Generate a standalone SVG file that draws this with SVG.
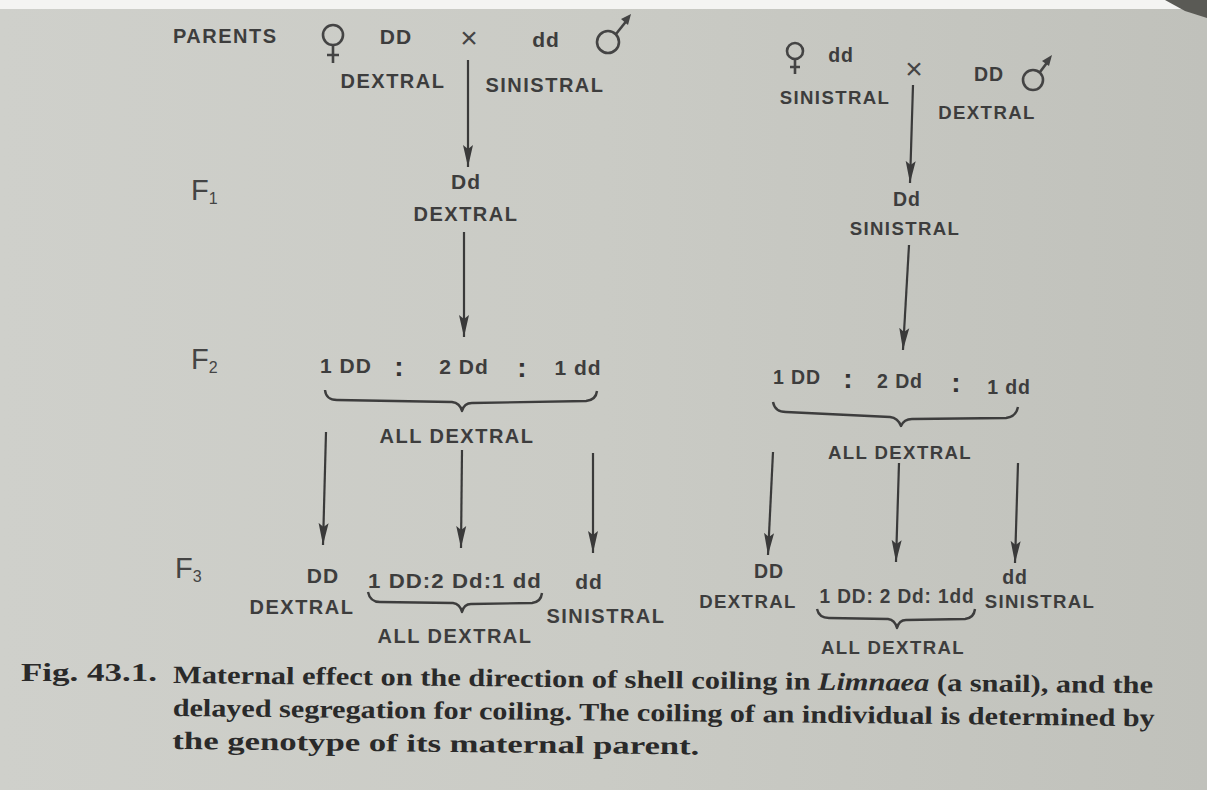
<svg xmlns="http://www.w3.org/2000/svg" width="1207" height="790" viewBox="0 0 1207 790">
<defs>
<marker id="ah" markerWidth="22" markerHeight="12" refX="22" refY="6" orient="auto" markerUnits="userSpaceOnUse" viewBox="0 0 22 12">
<path d="M0,1 L22,6 L0,11 L4,6 Z" fill="#3a3a3a"/>
</marker>
<linearGradient id="bg" x1="0" y1="0" x2="1" y2="0">
<stop offset="0" stop-color="#cfd0cb"/>
<stop offset="0.5" stop-color="#cacbc5"/>
<stop offset="1" stop-color="#c0c1bb"/>
</linearGradient>
</defs>
<style>
.t{font-family:"Liberation Sans",Arial,sans-serif;font-weight:bold;font-size:20px;fill:#3d3d3d;letter-spacing:1.5px}
.g{font-family:"Liberation Sans",Arial,sans-serif;font-weight:bold;font-size:21px;fill:#3d3d3d;letter-spacing:1px}
.R .t{font-size:18.6px;letter-spacing:1.4px}
.R .g{font-size:19.5px;letter-spacing:0.9px}
.m{text-anchor:middle}
.f{font-family:"Liberation Sans",Arial,sans-serif;font-size:29px;fill:#444}
.fs{font-size:16px}
.col{font-family:"Liberation Sans",Arial,sans-serif;font-weight:bold;font-size:28px;fill:#333;text-anchor:middle}
.x{font-family:"Liberation Sans",Arial,sans-serif;font-size:30px;fill:#444;text-anchor:middle}
.cap{font-family:"Liberation Serif","Times New Roman",serif;font-weight:bold;font-size:25px;fill:#2a2a2a}
.sym{fill:none;stroke:#444;stroke-width:2.6}
.br{fill:none;stroke:#3d3d3d;stroke-width:2.4;stroke-linejoin:round}
.ar{stroke:#3a3a3a;stroke-width:2.2;fill:none;marker-end:url(#ah)}
</style>
<rect width="1207" height="790" fill="url(#bg)"/>
<rect x="0" y="0" width="1207" height="9" fill="#f4f4f2"/>
<path d="M1165,0 L1207,0 L1207,18 L1185,11 Z" fill="#5a5a55"/>

<g id="left-parents">
<text class="t" x="173" y="43">PARENTS</text>
<g id="female-left"><circle class="sym" cx="333" cy="35" r="10"/><path class="sym" d="M333,45 V63 M327,55 H339"/></g>
<text class="g m" x="396" y="44">DD</text>
<text class="x" x="469" y="48">×</text>
<text class="g m" x="546" y="47">dd</text>
<g id="male-left"><circle class="sym" cx="608" cy="42" r="11"/><path class="sym" d="M616,34 L628,19"/><path d="M631,14 L621,19 L628,25 Z" fill="#444"/></g>
<text class="t m" x="393" y="88">DEXTRAL</text>
<text class="t m" x="545" y="92">SINISTRAL</text>
</g>

<g id="left-F1">
<text class="f" x="191" y="200">F<tspan class="fs" dy="4">1</tspan></text>
<text class="g m" x="466" y="189">Dd</text>
<text class="t m" x="466" y="221">DEXTRAL</text>
</g>

<g id="left-F2">
<text class="f" x="191" y="369">F<tspan class="fs" dy="4">2</tspan></text>
<text class="g m" x="346" y="373">1 DD</text>
<text class="col" x="399" y="376">:</text>
<text class="g m" x="464" y="374">2 Dd</text>
<text class="col" x="522" y="377">:</text>
<text class="g m" x="578" y="375">1 dd</text>
<path class="br" d="M325,390 Q326,400 337,400 L452,402 Q460,403 462,411 Q464,403 472,403 L586,401 Q596,400 597,391"/>
<text class="t m" x="457" y="443">ALL DEXTRAL</text>
</g>

<g id="left-F3">
<text class="f" x="175" y="578">F<tspan class="fs" dy="4">3</tspan></text>
<text class="g m" x="323" y="583">DD</text>
<text class="t m" x="302" y="614">DEXTRAL</text>
<text class="g m" x="455" y="588" textLength="174" lengthAdjust="spacingAndGlyphs">1 DD:2 Dd:1 dd</text>
<path class="br" d="M368,592 Q370,602 380,602 L453,603 Q460,604 462,612 Q464,604 471,604 L532,603 Q541,602 542,593"/>
<text class="g m" x="589" y="589">dd</text>
<text class="t m" x="606" y="623">SINISTRAL</text>
<text class="t m" x="455" y="643">ALL DEXTRAL</text>
</g>

<g id="right-parents" class="R">
<g id="female-right"><circle class="sym" cx="795" cy="51" r="8"/><path class="sym" d="M795,59 V74 M790,67 H800"/></g>
<text class="g m" x="841" y="62">dd</text>
<text class="x" x="914" y="79">×</text>
<text class="g m" x="989" y="81">DD</text>
<g id="male-right"><circle class="sym" cx="1033" cy="80" r="10"/><path class="sym" d="M1040,72 L1049,60"/><path d="M1052,55 L1042,61 L1049,66 Z" fill="#444"/></g>
<text class="t m" x="835" y="104">SINISTRAL</text>
<text class="t m" x="987" y="119">DEXTRAL</text>
</g>

<g id="right-F1" class="R">
<text class="g m" x="907" y="206">Dd</text>
<text class="t m" x="905" y="235">SINISTRAL</text>
</g>

<g id="right-F2" class="R">
<text class="g m" x="797" y="384">1 DD</text>
<text class="col" x="848" y="388">:</text>
<text class="g m" x="900" y="388">2 Dd</text>
<text class="col" x="956" y="392">:</text>
<text class="g m" x="1009" y="394">1 dd</text>
<path class="br" d="M773,402 Q775,412 786,412 L890,417 Q898,418 901,426 Q904,419 912,419 L1006,418 Q1016,417 1018,407"/>
<text class="t m" x="900" y="459">ALL DEXTRAL</text>
</g>

<g id="right-F3" class="R">
<text class="g m" x="769" y="578">DD</text>
<text class="t m" x="748" y="608">DEXTRAL</text>
<text class="g m" x="897" y="603" textLength="155" lengthAdjust="spacingAndGlyphs">1 DD: 2 Dd: 1dd</text>
<path class="br" d="M817,609 Q819,618 829,618 L888,619 Q895,620 897,628 Q899,620 906,620 L965,619 Q974,618 975,609"/>
<text class="g m" x="1015" y="584">dd</text>
<text class="t m" x="1040" y="608">SINISTRAL</text>
<text class="t m" x="893" y="654">ALL DEXTRAL</text>
</g>

<g id="connectors">
<line class="ar" x1="468" y1="60" x2="468" y2="167"/>
<line class="ar" x1="464" y1="232" x2="464" y2="337"/>
<line class="ar" x1="326" y1="432" x2="323" y2="545"/>
<line class="ar" x1="462" y1="450" x2="461" y2="548"/>
<line class="ar" x1="593" y1="453" x2="593" y2="553"/>
<line class="ar" x1="913" y1="85" x2="910" y2="183"/>
<line class="ar" x1="909" y1="245" x2="903" y2="350"/>
<line class="ar" x1="773" y1="452" x2="768" y2="555"/>
<line class="ar" x1="899" y1="463" x2="896" y2="562"/>
<line class="ar" x1="1018" y1="463" x2="1015" y2="563"/>
</g>

<g id="caption">
<text class="cap" x="21" y="681" textLength="136" lengthAdjust="spacingAndGlyphs">Fig. 43.1.</text>
<g transform="rotate(0.6 173 683)">
<text class="cap" x="173" y="683" textLength="980" lengthAdjust="spacingAndGlyphs">Maternal effect on the direction of shell coiling in <tspan font-style="italic">Limnaea</tspan> (a snail), and the</text>
<text class="cap" x="173" y="716" textLength="982" lengthAdjust="spacingAndGlyphs">delayed segregation for coiling. The coiling of an individual is determined by</text>
<text class="cap" x="173" y="749" textLength="527" lengthAdjust="spacingAndGlyphs">the genotype of its maternal parent.</text>
</g>
</g>
</svg>
